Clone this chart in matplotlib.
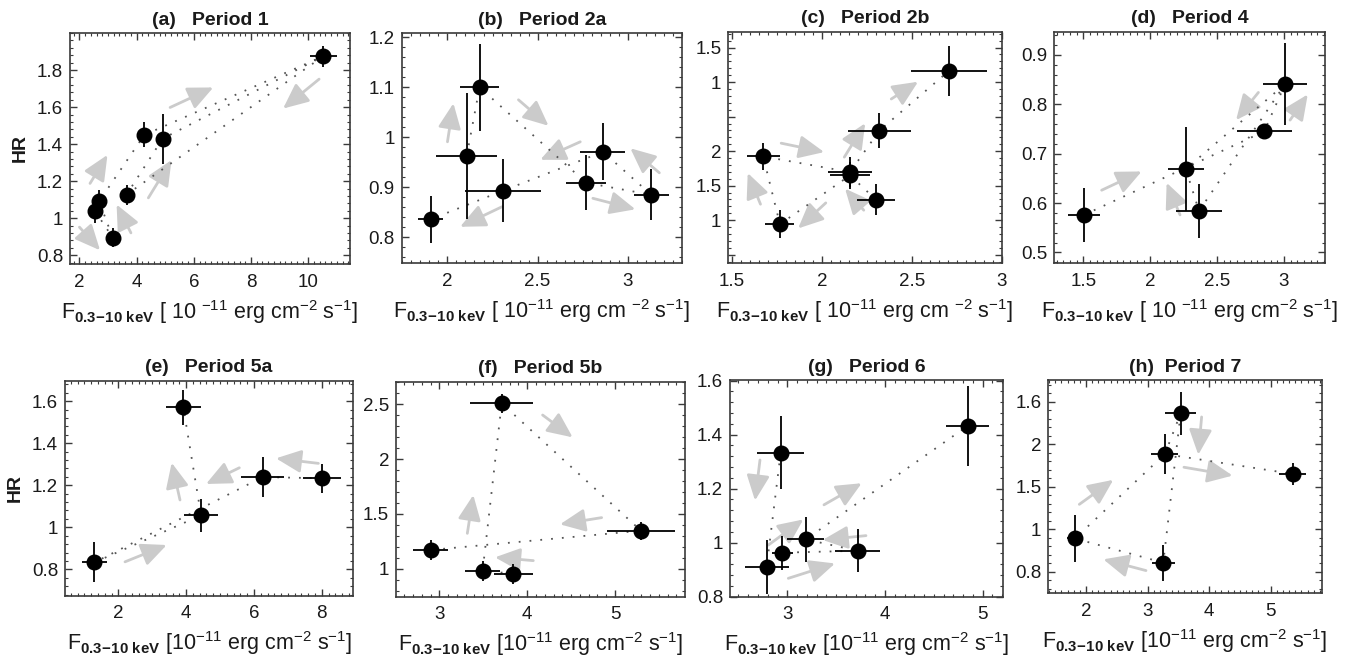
import matplotlib
matplotlib.use('Agg')
import matplotlib.pyplot as plt
from matplotlib.ticker import AutoMinorLocator, FixedLocator, FixedFormatter
import numpy as np

plt.rcParams['font.family'] = ['Liberation Sans', 'DejaVu Sans']
plt.rcParams['mathtext.fontset'] = 'custom'
plt.rcParams['mathtext.rm'] = 'Liberation Sans'
plt.rcParams['mathtext.it'] = 'Liberation Sans:italic'
plt.rcParams['mathtext.bf'] = 'Liberation Sans:bold'

# ---------------- data ----------------
titles = ['(a)   Period 1', '(b)   Period 2a', '(c)   Period 2b', '(d)   Period 4',
          '(e)   Period 5a', '(f)   Period 5b', '(g)   Period 6', '(h)  Period 7']

# panel (a)
flux_a = [2.55, 2.69, 3.16, 3.65, 4.27, 4.91, 10.52]
ferr_a = [0.12, 0.12, 0.12, 0.15, 0.15, 0.25, 0.47]
hr_a = [1.038, 1.092, 0.896, 1.128, 1.45, 1.43, 1.874]
hrerr_a = [0.063, 0.06, 0.05, 0.054, 0.068, 0.135, 0.056]
order_a = [0, 2, 1, 4, 6, 3, 5, 6]
arrows_a = [((2.0, 0.952), (2.72, 0.827)), ((3.80, 0.921), (3.30, 1.074)),
            ((2.37, 1.188), (2.98, 1.342)), ((4.41, 1.110), (5.22, 1.314)),
            ((5.17, 1.598), (6.68, 1.706)), ((10.38, 1.751), (9.12, 1.592))]

# panel (b)
flux_b = [1.907, 2.107, 2.178, 2.307, 2.77, 2.863, 3.131]
ferr_b = [0.068, 0.17, 0.11, 0.21, 0.11, 0.125, 0.097]
hr_b = [0.836, 0.963, 1.10, 0.893, 0.909, 0.971, 0.885]
hrerr_b = [0.047, 0.126, 0.087, 0.063, 0.055, 0.057, 0.051]
order_b = [1, 2, 4, 6, 5, 3, 0]
arrows_b = [((2.0, 0.991), (2.033, 1.068)), ((2.394, 1.075), (2.561, 1.023)),
            ((2.737, 0.991), (2.515, 0.955)), ((2.302, 0.861), (2.070, 0.821)),
            ((2.807, 0.878), (3.043, 0.856)), ((3.176, 0.929), (3.015, 0.978))]

# panel (c)
flux_c = [1.674, 1.767, 2.157, 2.157, 2.30, 2.32, 2.707]
ferr_c = [0.092, 0.081, 0.124, 0.11, 0.107, 0.175, 0.21]
hr_c = [1.923, 0.942, 1.697, 1.649, 1.298, 2.298, 3.163]
hrerr_c = [0.2, 0.2, 0.22, 0.2, 0.23, 0.25, 0.36]
order_c = [4, 3, 1, 0, 2, 5, 6]
arrows_c = [((1.774, 2.115), (2.013, 1.986)), ((1.659, 1.231), (1.588, 1.683)),
            ((2.022, 1.25), (1.868, 0.88)), ((2.233, 1.144), (2.129, 1.457)),
            ((2.125, 1.913), (2.241, 2.404)), ((2.386, 2.755), (2.535, 3.005))]
yticks_c = [0.5, 1.0, 1.5, 2.0, 2.5, 3.0, 3.5]
ylabels_c = ['', '1', '1.5', '2', '', '1', '1.5']

# panel (d)
flux_d = [1.505, 2.266, 2.365, 2.852, 3.009]
ferr_d = [0.116, 0.135, 0.17, 0.206, 0.162]
hr_d = [0.576, 0.669, 0.584, 0.745, 0.841]
hrerr_d = [0.055, 0.085, 0.055, 0.01, 0.083]
order_d = [0, 3, 4, 2, 1, 4]
arrows_d = [((1.637, 0.626), (1.936, 0.664)), ((2.223, 0.576), (2.123, 0.641)),
            ((2.809, 0.824), (2.642, 0.768)), ((3.046, 0.768), (3.178, 0.820))]

# panel (e)
flux_e = [1.292, 3.917, 4.44, 6.258, 8.02]
ferr_e = [0.37, 0.52, 0.49, 0.64, 0.56]
hr_e = [0.833, 1.570, 1.057, 1.239, 1.233]
hrerr_e = [0.095, 0.083, 0.08, 0.094, 0.07]
order_e = [4, 3, 0, 2, 1]
arrows_e = [((2.197, 0.836), (3.426, 0.916)), ((3.819, 1.130), (3.573, 1.307)),
            ((5.569, 1.283), (4.586, 1.206)), ((7.90, 1.304), (6.65, 1.328))]

# panel (f)
flux_f = [2.901, 3.493, 3.842, 3.710, 5.296]
ferr_f = [0.2, 0.2, 0.22, 0.36, 0.385]
hr_f = [1.173, 0.982, 0.958, 2.506, 1.348]
hrerr_f = [0.09, 0.09, 0.09, 0.085, 0.08]
order_f = [2, 1, 3, 4, 0]
arrows_f = [((4.176, 2.40), (4.518, 2.197)), ((4.848, 1.467), (4.374, 1.406)),
            ((3.319, 1.324), (3.387, 1.673)), ((4.07, 1.076), (3.634, 1.106))]

# panel (g)
flux_g = [2.788, 2.949, 2.932, 3.188, 3.72, 4.846]
ferr_g = [0.225, 0.11, 0.24, 0.19, 0.227, 0.22]
hr_g = [0.909, 0.963, 1.333, 1.012, 0.970, 1.432]
hrerr_g = [0.1, 0.063, 0.135, 0.082, 0.08, 0.147]
order_g = [2, 0, 1, 4, 3, 5]
arrows_g = [((2.72, 1.306), (2.669, 1.156)), ((2.805, 0.991), (3.164, 1.086)),
            ((3.375, 1.140), (3.761, 1.220)), ((3.805, 1.026), (3.362, 1.010)),
            ((3.01, 0.868), (3.488, 0.923))]

# panel (h)
flux_h = [1.821, 3.256, 3.283, 3.538, 5.357]
ferr_h = [0.125, 0.19, 0.22, 0.25, 0.22]
hr_h = [0.891, 0.607, 1.883, 2.362, 1.650]
hrerr_h = [0.28, 0.21, 0.24, 0.25, 0.125]
order_h = [2, 3, 1, 0, 2, 4]
arrows_h = [((1.892, 1.292), (2.444, 1.580)), ((3.879, 2.319), (3.825, 1.875)),
            ((3.592, 1.728), (4.382, 1.630)), ((2.975, 0.514), (2.282, 0.646))]
yticks_h = [0.5, 1.0, 1.5, 2.0, 2.5]
ylabels_h = ['0.8', '1', '1.5', '2', '1.6']

xlabels = [
    r'F$_{\mathbf{0.3\!-\!10\ keV}}$ [ 10 $^{-11}$ erg cm$^{-2}$ s$^{-1}$]',
    r'F$_{\mathbf{0.3\!-\!10\ keV}}$ [ 10$^{-11}$ erg cm $^{-2}$ s$^{-1}$]',
    r'F$_{\mathbf{0.3\!-\!10\ keV}}$ [ 10$^{-11}$ erg cm $^{-2}$ s$^{-1}$]',
    r'F$_{\mathbf{0.3\!-\!10\ keV}}$ [ 10 $^{-11}$ erg cm$^{-2}$ s$^{-1}$]',
    r'F$_{\mathbf{0.3\!-\!10\ keV}}$ [10$^{-11}$ erg cm$^{-2}$ s$^{-1}$]',
    r'F$_{\mathbf{0.3\!-\!10\ keV}}$ [10$^{-11}$ erg cm$^{-2}$ s$^{-1}$]',
    r'F$_{\mathbf{0.3\!-\!10\ keV}}$ [10$^{-11}$ erg cm$^{-2}$ s$^{-1}$]',
    r'F$_{\mathbf{0.3\!-\!10\ keV}}$ [10$^{-11}$ erg cm$^{-2}$ s$^{-1}$]',
]

panels = [
    (flux_a, ferr_a, hr_a, hrerr_a, order_a, arrows_a),
    (flux_b, ferr_b, hr_b, hrerr_b, order_b, arrows_b),
    (flux_c, ferr_c, hr_c, hrerr_c, order_c, arrows_c),
    (flux_d, ferr_d, hr_d, hrerr_d, order_d, arrows_d),
    (flux_e, ferr_e, hr_e, hrerr_e, order_e, arrows_e),
    (flux_f, ferr_f, hr_f, hrerr_f, order_f, arrows_f),
    (flux_g, ferr_g, hr_g, hrerr_g, order_g, arrows_g),
    (flux_h, ferr_h, hr_h, hrerr_h, order_h, arrows_h),
]

# ---------------- layout ----------------
W, H = 1351, 666
boxes = [(70, 350, 33, 264), (401.7, 681.7, 33.3, 263.3), (728.3, 1001.7, 31.7, 263.3),
         (1054.3, 1325, 31.7, 263.3), (65, 353.3, 380.7, 595.7), (396, 685, 381.7, 596.7),
         (730, 1002.7, 380, 596.7), (1048.3, 1321.7, 380, 593.3)]
xlims = [(1.67, 11.46), (1.746, 3.30), (1.48, 3.0), (1.283, 3.307),
         (0.427, 8.93), (2.507, 5.797), (2.413, 5.205), (1.388, 5.83)]
ylims = [(0.753, 2.0), (0.748, 1.208), (0.375, 3.73), (0.478, 0.947),
         (0.675, 1.697), (0.748, 2.703), (0.8, 1.602), (0.247, 2.753)]
xticks = [[2, 4, 6, 8, 10], [2, 2.5, 3], [1.5, 2, 2.5, 3], [1.5, 2, 2.5, 3],
          [2, 4, 6, 8], [3, 4, 5], [3, 4, 5], [2, 3, 4, 5]]
yticks = [[0.8, 1, 1.2, 1.4, 1.6, 1.8], [0.8, 0.9, 1, 1.1, 1.2], yticks_c,
          [0.5, 0.6, 0.7, 0.8, 0.9], [0.8, 1, 1.2, 1.4, 1.6], [1, 1.5, 2, 2.5],
          [0.8, 1, 1.2, 1.4, 1.6], yticks_h]

fig = plt.figure(figsize=(W / 100, H / 100), dpi=100)
frame_col = '#3a3a3a'
text_col = '#1a1a1a'

for i, (fx, fe, hr, he, order, arrows) in enumerate(panels):
    l, r, t, b = boxes[i]
    ax = fig.add_axes([l / W, 1 - b / H, (r - l) / W, (b - t) / H])
    fx = np.array(fx); hr = np.array(hr)
    # dotted connecting path
    ax.plot(fx[order], hr[order], linestyle=(0, (1, 5)), color='#555555',
            lw=1.3, zorder=2)
    # arrows
    for (tail, head) in arrows:
        ax.annotate('', xy=head, xytext=tail,
                    arrowprops=dict(arrowstyle='-|>,head_length=1.1,head_width=0.5',
                                    color='#cbcbcb', lw=2.0, mutation_scale=14,
                                    shrinkA=0, shrinkB=0), zorder=1)
    ax.errorbar(fx, hr, xerr=fe, yerr=he, fmt='o', color='black', ms=10.5,
                elinewidth=1.3, capsize=0, zorder=3)
    ax.set_xlim(*xlims[i])
    ax.set_ylim(*ylims[i])
    ax.xaxis.set_major_locator(FixedLocator(xticks[i]))
    ax.xaxis.set_major_formatter(FixedFormatter(['%g' % v for v in xticks[i]]))
    ax.yaxis.set_major_locator(FixedLocator(yticks[i]))
    if i == 2:
        ax.yaxis.set_major_formatter(FixedFormatter(ylabels_c))
    elif i == 7:
        ax.yaxis.set_major_formatter(FixedFormatter(ylabels_h))
    else:
        ax.yaxis.set_major_formatter(FixedFormatter(['%g' % v for v in yticks[i]]))
    ax.xaxis.set_minor_locator(AutoMinorLocator(10))
    ax.yaxis.set_minor_locator(AutoMinorLocator(5))
    ax.tick_params(which='both', direction='in', top=True, right=True,
                   color=frame_col, labelcolor=text_col)
    ax.tick_params(which='major', length=5, width=1.0, labelsize=13.5)
    ax.tick_params(axis='x', which='major', pad=7)
    ax.tick_params(axis='y', which='major', pad=5)
    ax.tick_params(which='minor', length=2.5, width=0.8)
    for s in ax.spines.values():
        s.set_color(frame_col)
        s.set_linewidth(1.2)
    ax.set_title(titles[i], fontsize=14, fontweight='bold', color=text_col, pad=6)
    ax.set_xlabel(xlabels[i], fontsize=15.5, color=text_col, labelpad=5)
    if i in (0, 4):
        ax.set_ylabel('HR', fontsize=14, fontweight='bold', color=text_col, labelpad=6)

fig.savefig('out.png', dpi=100)
